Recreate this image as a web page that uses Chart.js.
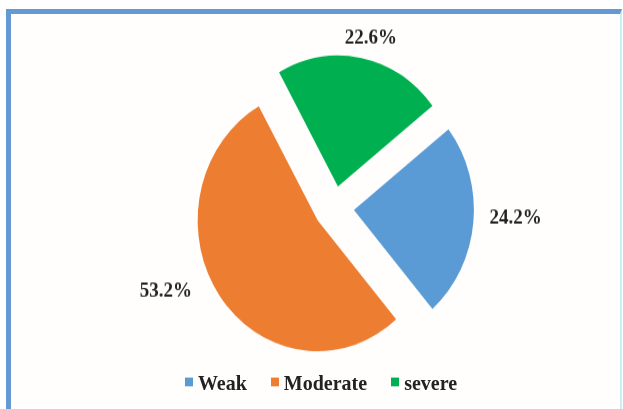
<!DOCTYPE html>
<html>
<head>
<meta charset="utf-8">
<script src="https://cdn.jsdelivr.net/npm/chart.js@4.4.0/dist/chart.umd.min.js"></script>
<style>
  html, body { margin: 0; padding: 0; background: #fff; }
  #wrap { position: relative; width: 623px; height: 409px; overflow: hidden; }
  #frame {
    position: absolute; left: 6px; top: 9px; width: 609px; height: 420px;
    border-left: 5px solid #6499d3; border-top: 5px solid #6499d3;
    border-right: 2px solid #c9eef6; background: #fffefc;
  }
  /* the source picture is stretched a little vertically */
  #pie { position: absolute; left: 0; top: 0; width: 623px !important; height: 409px !important; }
  #legend {
    position: absolute; left: 0; top: 371px; width: 642px; text-align: center;
    font: bold 20px "Liberation Serif", "Times New Roman", serif; color: #222;
    transform: scaleY(1.09);
  }
  #legend span.item { display: inline-block; margin: 0 12px; }
  #legend i { display: inline-block; width: 8px; height: 8px; margin-right: 5px; vertical-align: 3px; }
</style>
</head>
<body>
<div id="wrap">
  <div id="frame"></div>
  <canvas id="pie" width="623" height="375"></canvas>
  <div id="legend"></div>
</div>
<script>
// values
var categories = ['Weak', 'Moderate', 'severe'];
var shares = [24.2, 53.2, 22.6];
var colors = ['#5b9bd5', '#ed7d31', '#00b050'];

// pull every slice out by the same distance, then write the percentages
var explodedPie = {
    id: 'explodedPie',
    beforeDatasetsDraw: function(chart, args, opts) {
        chart.getDatasetMeta(0).data.forEach(function(arc) {
            var mid = (arc.startAngle + arc.endAngle) / 2;
            arc._home = [arc.x, arc.y];
            arc.x += Math.cos(mid) * opts.explode;
            arc.y += Math.sin(mid) * opts.explode;
        });
    },
    afterDatasetsDraw: function(chart, args, opts) {
        var ctx = chart.ctx;
        ctx.save();
        ctx.font = opts.font;
        ctx.fillStyle = opts.color;
        ctx.textAlign = 'center';
        ctx.textBaseline = 'middle';
        chart.getDatasetMeta(0).data.forEach(function(arc, i) {
            var mid = (arc.startAngle + arc.endAngle) / 2;
            var a = mid + opts.turn[i] * Math.PI / 180;
            var r = arc.outerRadius + opts.gap[i];
            ctx.fillText(shares[i].toFixed(1) + '%', arc.x + Math.cos(a) * r, arc.y + Math.sin(a) * r);
            arc.x = arc._home[0];
            arc.y = arc._home[1];
        });
        ctx.restore();
    }
};

var ctx = document.getElementById('pie').getContext('2d');
var chart = new Chart(ctx, {
    type: 'pie',
    data: {
        labels: categories,
        datasets: [{
            data: shares,
            backgroundColor: colors,
            borderWidth: 0
        }]
    },
    options: {
        responsive: false,
        animation: false,
        devicePixelRatio: 1,
        rotation: 52,
        radius: 120,
        layout: { padding: { top: 56, bottom: 50, left: 45, right: 0 } },
        plugins: {
            legend: { display: false },
            tooltip: { enabled: false },
            explodedPie: {
                explode: 20,
                font: 'bold 19px "Liberation Serif", "Times New Roman", serif',
                color: '#222',
                gap: [42, 45, 20],
                turn: [-3, 12, 2.3]
            }
        }
    },
    plugins: [explodedPie]
});

// legend below the pie
var legend = document.getElementById('legend');
categories.forEach(function(name, i) {
    var item = document.createElement('span');
    item.className = 'item';
    item.innerHTML = '<i style="background:' + colors[i] + '"></i>' + name;
    legend.appendChild(item);
});
</script>
</body>
</html>
